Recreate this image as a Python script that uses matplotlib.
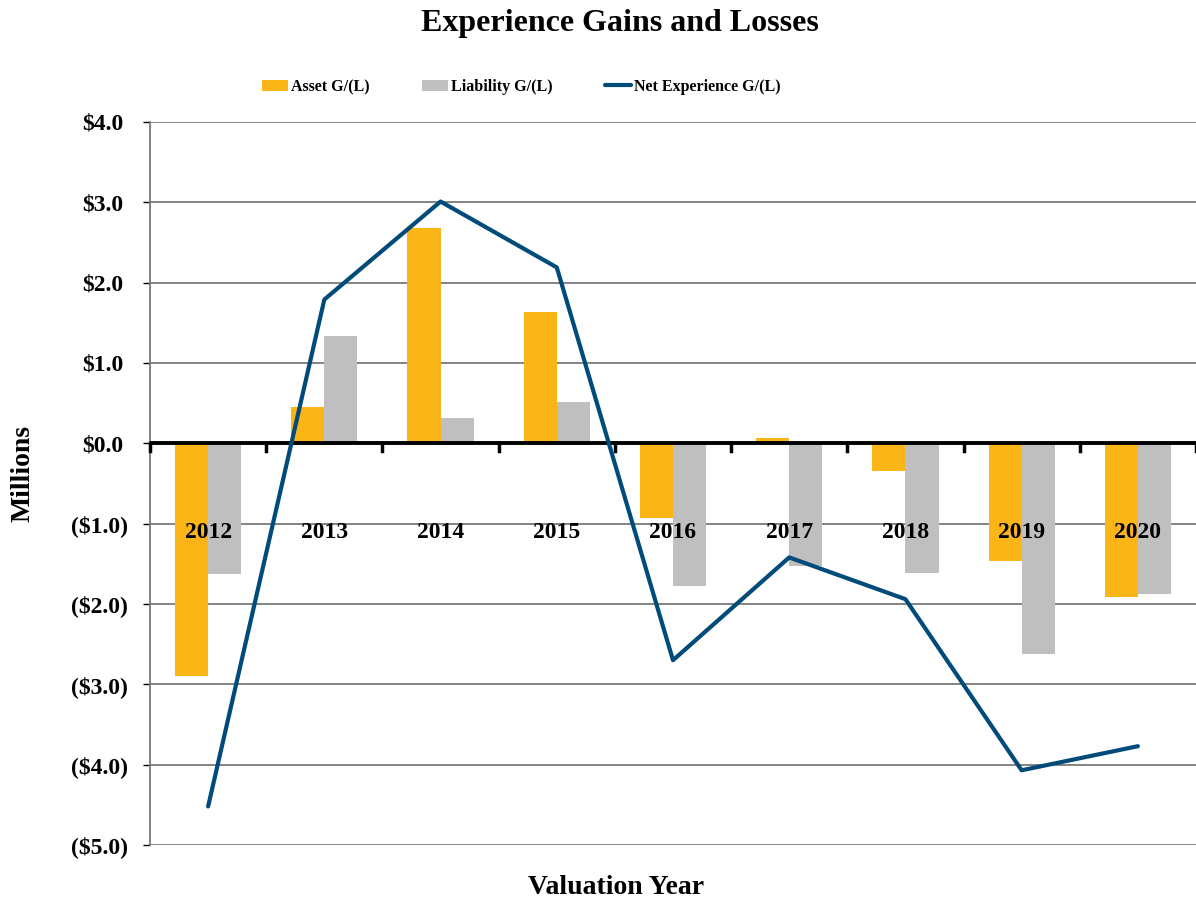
import numpy as np
import matplotlib.pyplot as plt

years = ['2012', '2013', '2014', '2015', '2016', '2017', '2018', '2019', '2020']
asset_gl = [-2.90, 0.45, 2.68, 1.64, -0.93, 0.07, -0.34, -1.46, -1.91]
liability_gl = [-1.63, 1.33, 0.31, 0.52, -1.78, -1.53, -1.62, -2.62, -1.88]
net_gl = [-4.52, 1.79, 3.01, 2.19, -2.70, -1.42, -1.94, -4.07, -3.77]
y_ticks = [4, 3, 2, 1, 0, -1, -2, -3, -4, -5]

asset_color = '#FBB516'
liab_color = '#BFBFBF'
net_color = '#004B7A'

plt.rcParams['font.family'] = ['Liberation Serif', 'DejaVu Serif']
plt.rcParams['font.weight'] = 'bold'

fig = plt.figure(figsize=(11.96, 9.01), dpi=100)
ax = fig.add_axes([150 / 1196, 56 / 901, 1046 / 1196, 723 / 901])

x = np.arange(len(years))
w = 0.285
b1 = ax.bar(x - w / 2, asset_gl, w, color=asset_color, label='Asset G/(L)', zorder=2)
b2 = ax.bar(x + w / 2, liability_gl, w, color=liab_color, label='Liability G/(L)', zorder=2)
l1, = ax.plot(x, net_gl, color=net_color, lw=3, label='Net Experience G/(L)',
              solid_capstyle='round', zorder=4)

ax.set_xlim(-0.5, len(years) - 0.5)
ax.set_ylim(-5, 4)
ax.set_yticks(y_ticks)
ax.set_yticklabels([])
ax.grid(axis='y', color='#7a7a7a', lw=1.3, zorder=0)
ax.axhline(0, color='black', lw=2.8, zorder=3)

# y labels, Excel style: positives leave room for the ")"
ytr = ax.get_yaxis_transform()
for v in y_ticks:
    if v >= 0:
        ax.text(-0.0258, v, f'${v:.1f}', transform=ytr, ha='right', va='center_baseline',
                fontsize=17, fontweight='bold')
    else:
        ax.text(-0.0210, v, f'(${-v:.1f})', transform=ytr, ha='right', va='center_baseline',
                fontsize=17, fontweight='bold')

# category boundary ticks on the zero line
for b in np.arange(-0.5, len(years), 1):
    ax.plot([b, b], [0, -0.09], color='black', lw=2.5, zorder=3, clip_on=False)

# year labels inside plot
for xi, yr in zip(x, years):
    ax.text(xi, -1.11, yr, ha='center', va='center', fontsize=17, fontweight='bold', zorder=5)

ax.set_xticks([])
for s in ['top', 'right', 'bottom']:
    ax.spines[s].set_visible(False)
ax.spines['left'].set_color('#7a7a7a')
ax.spines['left'].set_linewidth(1.3)
ax.tick_params(axis='y', length=5, color='black', width=1.0)

fig.text(23 / 1196, 1 - 474 / 901, 'Millions', rotation=90, ha='center', va='center',
         fontsize=20, fontweight='bold')
fig.text(616 / 1196, 1 - 887 / 901, 'Valuation Year', ha='center', va='center',
         fontsize=20, fontweight='bold')
fig.text(620 / 1196, 1 - 24 / 901, 'Experience Gains and Losses', ha='center', va='center',
         fontsize=23, fontweight='bold')

fig.legend([b1, b2, l1], ['Asset G/(L)', 'Liability G/(L)', 'Net Experience G/(L)'],
           loc='center left', bbox_to_anchor=(262 / 1196, 1 - 87 / 901), ncol=3,
           frameon=False, handlelength=1.6, handleheight=0.75, columnspacing=3.3,
           handletextpad=0.2, borderpad=0, borderaxespad=0,
           prop={'weight': 'bold', 'size': 11.5})

fig.savefig('out.png', dpi=100)
